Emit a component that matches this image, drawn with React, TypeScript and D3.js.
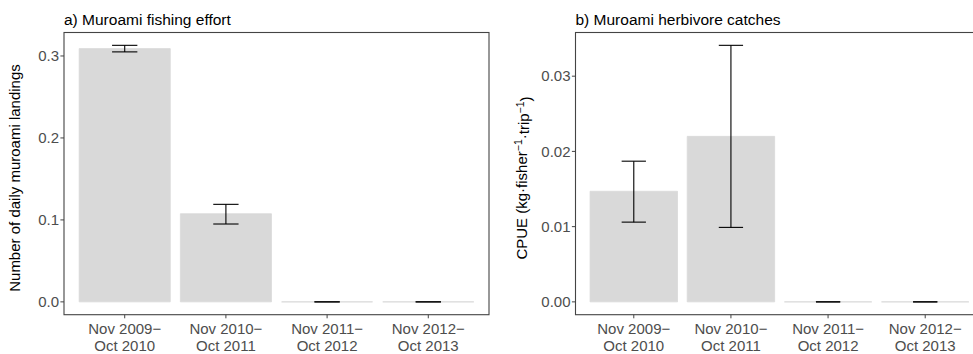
import { scaleLinear, scalePoint } from "d3";

const periods = ["Nov 2009−|Oct 2010", "Nov 2010−|Oct 2011", "Nov 2011−|Oct 2012", "Nov 2012−|Oct 2013"];

// a) fishing effort
const effortMean = [0.309, 0.1075, 0, 0];
const effortLow = [0.305, 0.095, 0, 0];
const effortHigh = [0.313, 0.119, 0, 0];
const effortTicks = [0, 0.1, 0.2, 0.3];

// b) herbivore catches
const cpueMean = [0.0147, 0.022, 0, 0];
const cpueLow = [0.0106, 0.0099, 0, 0];
const cpueHigh = [0.0187, 0.0341, 0, 0];
const cpueTicks = [0, 0.01, 0.02, 0.03];

const FONT = "'Liberation Sans', Arial, Helvetica, sans-serif";

function Panel({ left, right, top, bottom, title, mean, low, high, ticks, fmt, yLabel, labelX }) {
  const x = scalePoint().domain(periods).range([left, right]).padding(0.6);
  const step = x.step();
  const hi = Math.max(...high);
  const y = scaleLinear().domain([-hi * 0.05, hi * 1.05]).range([bottom, top]);
  const bw = step * 0.9;
  const ew = step * 0.25;
  const midY = 178;

  return (
    <g>
      <text x={left} y={25} fontSize={15.5} fill="#000">{title}</text>
      {periods.map((p, i) => {
        const cx = x(p);
        const y0 = y(0);
        const y1 = y(mean[i]);
        return (
          <path key={"b" + i}
            d={`M${cx - bw / 2},${y0}H${cx + bw / 2}V${y1}H${cx - bw / 2}Z`}
            fill="#d9d9d9" stroke="#d9d9d9" strokeWidth={0.8} />
        );
      })}
      {periods.map((p, i) => {
        const cx = x(p);
        const yl = y(low[i]);
        const yh = y(high[i]);
        return (
          <g key={"e" + i} stroke="#000" strokeWidth={1.1}>
            <line x1={cx - ew / 2} x2={cx + ew / 2} y1={yh} y2={yh} />
            <line x1={cx - ew / 2} x2={cx + ew / 2} y1={yl} y2={yl} />
            <line x1={cx} x2={cx} y1={yh} y2={yl} />
          </g>
        );
      })}
      <rect x={left} y={top} width={right - left} height={bottom - top} fill="none" stroke="#444" strokeWidth={1.1} />
      {ticks.map((t) => (
        <g key={"y" + t}>
          <line x1={left - 3.6} x2={left} y1={y(t)} y2={y(t)} stroke="#444" strokeWidth={1} />
          <text x={left - 5} y={y(t)} dy="0.35em" textAnchor="end" fontSize={15} fill="#4d4d4d">{fmt(t)}</text>
        </g>
      ))}
      {periods.map((p) => {
        const [l1, l2] = p.split("|");
        return (
          <g key={"x" + p}>
            <line x1={x(p)} x2={x(p)} y1={bottom} y2={bottom + 3.6} stroke="#444" strokeWidth={1} />
            <text x={x(p)} y={334} textAnchor="middle" fontSize={15} fill="#4d4d4d">{l1}</text>
            <text x={x(p)} y={350.5} textAnchor="middle" fontSize={15} fill="#4d4d4d">{l2}</text>
          </g>
        );
      })}
      <text transform={`translate(${labelX},${midY}) rotate(-90)`} textAnchor="middle" fontSize={15} fill="#000">
        {yLabel}
      </text>
    </g>
  );
}

export default function App() {
  const cpueLabel = (
    <>
      <tspan>CPUE (kg·fisher</tspan>
      <tspan dy="-0.45em" fontSize="70%">−1</tspan>
      <tspan dy="0.45em">·trip</tspan>
      <tspan dy="-0.45em" fontSize="70%">−1</tspan>
      <tspan dy="0.45em">)</tspan>
    </>
  );
  return (
    <div style={{ position: "absolute", left: 0, top: 0 }}>
      <svg width={973} height={354} style={{ display: "block", overflow: "hidden", fontFamily: FONT }}>
        <rect width={973} height={354} fill="#fff" />
        <Panel left={64} right={489} top={32.5} bottom={314.7}
          title="a) Muroami fishing effort"
          mean={effortMean} low={effortLow} high={effortHigh}
          ticks={effortTicks} fmt={(t) => t.toFixed(1)}
          yLabel="Number of daily muroami landings" labelX={20} />
        <Panel left={575.5} right={983.5} top={32.5} bottom={314.7}
          title="b) Muroami herbivore catches"
          mean={cpueMean} low={cpueLow} high={cpueHigh}
          ticks={cpueTicks} fmt={(t) => t.toFixed(2)}
          yLabel={cpueLabel} labelX={527} />
      </svg>
    </div>
  );
}
